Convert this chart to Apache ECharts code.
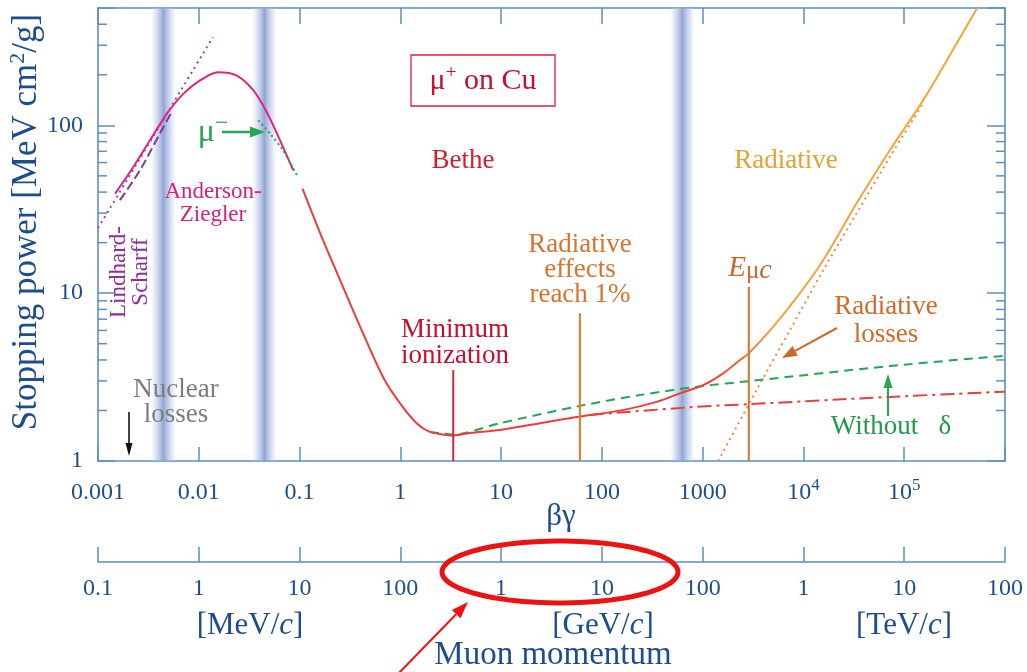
<!DOCTYPE html>
<html>
<head>
<meta charset="utf-8">
<title>Stopping power for muons in copper</title>
<script src="https://cdn.jsdelivr.net/npm/echarts@6.0.0/dist/echarts.min.js"></script>
<style>
  html, body { margin: 0; padding: 0; background: #fff; }
  #chart { width: 1027px; height: 672px; }
</style>
</head>
<body>
<div id="chart"></div>
<script>
// values: [beta*gamma, stopping power MeV cm2/g]
var betheTotal = [
  [0.107, 42.0], [0.171, 20.7], [0.27, 10.9], [0.426, 5.78], [0.671, 3.18], [0.99, 2.21],
  [1.45, 1.68], [1.97, 1.49], [2.88, 1.43], [3.35, 1.42], [4.9, 1.47], [9.7, 1.53],
  [24.3, 1.68], [60.5, 1.84], [161, 2.01], [349, 2.25], [594, 2.53], [1010, 2.83],
  [1600, 3.33], [2340, 3.99], [2870, 4.38], [5000, 6.3], [9200, 9.96], [15700, 15.7],
  [33600, 34.2], [72000, 71], [154000, 141], [330000, 306], [530000, 500]
];
var andersonZiegler = [
  [0.00148, 39.2], [0.00224, 56.5], [0.00328, 81.4], [0.00481, 117], [0.00702, 154],
  [0.0103, 185], [0.0155, 207], [0.0238, 198], [0.0347, 162], [0.0472, 120],
  [0.064, 81.4], [0.0866, 54]
];
var lindhardDashed = [[0.00165, 35.8], [0.00261, 54], [0.00412, 89.6], [0.00542, 121]];
var lindhardDotted = [[0.001, 24.4], [0.0138, 335]];
var muMinus = [[0.0389, 107], [0.0508, 89.6], [0.0684, 71], [0.0942, 50.4]];
var withoutDelta = [
  [1.97, 1.49], [3.33, 1.44], [9.7, 1.68], [60.5, 2.13], [238, 2.47], [1005, 2.8],
  [2870, 2.99], [72000, 3.68], [1000000, 4.24]
];
var betheOnly = [[76, 1.88], [746, 2.09], [2870, 2.18], [72000, 2.41], [1000000, 2.59]];
var radiativeLosses = [
  [1426, 1.0], [3430, 2.65], [7330, 6.02], [15700, 13.7], [33600, 29.8], [72000, 64.8], [154000, 135]
];
var minIonization = [[3.35, 1], [3.35, 3.48]];
var radOnePercent = [[60.5, 1], [60.5, 7.6]];
var muonCritical = [[2870, 1], [2870, 10.9]];
// shaded boundaries between the regions (beta*gamma from / to)
var bands = [[0.00335, 0.00596], [0.0337, 0.0597], [473, 837]];

var bgTickLabels = ['0.001', '0.01', '0.1', '1', '10', '100', '1000', '10{sup|4}', '10{sup|5}', ''];
var momTickLabels = ['0.1', '1', '10', '100', '1', '10', '100', '1', '10', '100'];
var yTickLabels = ['1', '10', '100'];
var yMinorTicks = [2, 3, 4, 5, 6, 7, 8, 9, 20, 30, 40, 50, 60, 70, 80, 90, 200, 300, 400];

var FONT = '"Liberation Serif", "DejaVu Serif", serif';
var axisColor = '#5d8dc4';
var navy = '#1d4d8e';
var red = '#ee3b3b';
var orange = '#f4a53a';
var green = '#27a552';

function expOf(v) {
  var e = Math.log(v) / Math.LN10;
  var r = Math.round(e);
  return Math.abs(e - r) < 0.01 ? r : null;
}

function arrow(x1, y1, x2, y2, color, w, hl, hw) {
  var a = Math.atan2(y2 - y1, x2 - x1);
  var bx = x2 - hl * Math.cos(a), by = y2 - hl * Math.sin(a);
  var px = -Math.sin(a) * hw / 2, py = Math.cos(a) * hw / 2;
  return [
    { type: 'line', z: 50, shape: { x1: x1, y1: y1, x2: bx, y2: by }, style: { stroke: color, lineWidth: w } },
    { type: 'polygon', z: 50, shape: { points: [[x2, y2], [bx + px, by + py], [bx - px, by - py]] }, style: { fill: color } }
  ];
}

function text(str, x, y, size, color, extra) {
  var el = {
    type: 'text', x: x, y: y, z: 50,
    style: {
      text: str, font: size + 'px ' + FONT, fill: color,
      align: 'center', verticalAlign: 'middle', lineHeight: size * 0.92
    }
  };
  if (extra) {
    for (var k in extra) {
      if (k === 'style') { for (var s in extra.style) el.style[s] = extra.style[s]; }
      else el[k] = extra[k];
    }
  }
  return el;
}

function ellipsePoints(cx, cy, rx, ry) {
  var pts = [];
  for (var i = 0; i < 90; i++) {
    var t = i / 90 * Math.PI * 2;
    pts.push([cx + rx * Math.cos(t), cy + ry * Math.sin(t)]);
  }
  return pts;
}

var chart = echarts.init(document.getElementById('chart'));

function lineSeries(data, color, width, type, z) {
  return {
    type: 'line', data: data, showSymbol: false, symbol: 'none', smooth: 0.3,
    lineStyle: { color: color, width: width, type: type || 'solid' },
    z: z || 5, silent: true
  };
}

var italicC = { i: { fontStyle: 'italic', fontSize: 31, fontFamily: FONT, fill: navy } };

var graphics = [
  // y axis title
  text('Stopping power [MeV cm{sup|2}/g]', 27, 222, 35, navy, {
    rotation: Math.PI / 2,
    style: { rich: { sup: { fontSize: 22, fontFamily: FONT, fill: navy, padding: [0, 0, 17, 0] } } }
  }),
  text('βγ', 561, 517, 31, navy),
  text('[MeV/{i|c}]', 250, 626, 31, navy, { style: { rich: italicC } }),
  text('[GeV/{i|c}]', 603, 626, 31, navy, { style: { rich: italicC } }),
  text('[TeV/{i|c}]', 904, 626, 31, navy, { style: { rich: italicC } }),
  text('Muon momentum', 553, 655, 33, navy),
  // box label
  { type: 'rect', z: 50, shape: { x: 411, y: 55, width: 144, height: 51 }, style: { fill: 'none', stroke: '#d2233b', lineWidth: 1.3 } },
  text('{a|μ}{s|+}{a| on Cu}', 483, 81, 30, '#c8102e', {
    style: { rich: { a: { fontSize: 30, fontFamily: FONT, fill: '#c8102e' }, s: { fontSize: 19, fontFamily: FONT, fill: '#c8102e', padding: [0, 0, 16, 0] } } }
  }),
  text('Bethe', 463, 161, 27, '#d0202e'),
  text('Radiative', 786, 161, 27, '#e8a032'),
  text('Anderson-\nZiegler', 213, 203, 23, '#d81f7c', { style: { lineHeight: 23 } }),
  text('Lindhard-\nScharff', 130, 272, 23, '#8a2f9c', { rotation: Math.PI / 2, style: { lineHeight: 22 } }),
  text('{m|μ}{s|−}', 213, 133, 30, green, {
    style: { rich: { m: { fontSize: 32, fontFamily: FONT, fill: green }, s: { fontSize: 24, fontFamily: FONT, fill: green, padding: [0, 0, 18, 0] } } }
  }),
  text('Nuclear\nlosses', 176, 402, 27, '#7d7d7d', { style: { lineHeight: 25 } }),
  text('Minimum\nionization', 455, 343, 27, '#c8102e', { style: { lineHeight: 26 } }),
  text('Radiative\neffects\nreach 1%', 580, 270, 27, '#d9722e', { style: { lineHeight: 25 } }),
  text('{e|E}{m|μ}{c|c}', 750, 268, 28, '#c9682a', {
    style: { rich: {
      e: { fontSize: 29, fontStyle: 'italic', fontFamily: FONT, fill: '#c9682a' },
      m: { fontSize: 25, fontFamily: FONT, fill: '#c9682a', padding: [6, 0, 0, 0] },
      c: { fontSize: 28, fontStyle: 'italic', fontFamily: FONT, fill: '#c9682a', padding: [6, 0, 0, 0] }
    } }
  }),
  text('Radiative\nlosses', 886, 321, 27, '#d06a28', { style: { lineHeight: 28 } }),
  text('Without   δ', 891, 427, 27, '#1f9a4a'),
  // red annotation ellipse
  { type: 'polygon', z: 60, shape: { points: ellipsePoints(560, 572, 118, 31) }, style: { fill: 'none', stroke: '#ee1111', lineWidth: 5 } }
];
graphics = graphics
  .concat(arrow(222, 132, 265, 132, green, 2.5, 15, 11))
  .concat(arrow(129, 412, 129, 456, '#111', 1.6, 13, 7))
  .concat(arrow(837, 328, 782, 358, '#c96a2a', 2, 15, 11))
  .concat(arrow(888, 416, 888, 374, green, 2, 14, 9))
  .concat(arrow(396, 676, 468, 602, '#ee1111', 2, 17, 12));

var option = {
  animation: false,
  backgroundColor: '#fff',
  grid: { left: 98, right: 22, top: 8, bottom: 211, containLabel: false, outerBoundsMode: 'none' },
  xAxis: [
    {
      type: 'log', min: 0.001, max: 1000000, position: 'bottom',
      axisLine: { lineStyle: { color: axisColor, width: 1.6 } },
      axisTick: { inside: true, length: 14, lineStyle: { color: axisColor, width: 1.5 } },
      splitLine: { show: false },
      axisLabel: {
        margin: 17, fontSize: 24, lineHeight: 30, fontFamily: FONT, color: navy,
        formatter: function (v) { var e = expOf(v); return e === null ? '' : (bgTickLabels[e + 3] || ''); },
        rich: { sup: { fontSize: 17, fontFamily: FONT, color: navy, padding: [0, 0, 14, 0] } }
      }
    },
    {
      type: 'log', min: 0.1, max: 100000000, position: 'bottom', offset: 101,
      axisLine: { lineStyle: { color: axisColor, width: 1.6 } },
      axisTick: { inside: true, length: 15, lineStyle: { color: axisColor, width: 1.5 } },
      splitLine: { show: false },
      axisLabel: {
        margin: 15, fontSize: 24, fontFamily: FONT, color: navy,
        formatter: function (v) { var e = expOf(v); return e === null ? '' : (momTickLabels[e + 1] || ''); }
      }
    },
    {
      type: 'log', min: 0.001, max: 1000000, position: 'top',
      axisLine: { lineStyle: { color: axisColor, width: 1.6 } },
      axisTick: { inside: true, length: 16, lineStyle: { color: axisColor, width: 1.5 } },
      splitLine: { show: false },
      axisLabel: { show: false }
    }
  ],
  yAxis: [
    {
      type: 'log', min: 1, max: 500, position: 'left',
      axisLine: { lineStyle: { color: axisColor, width: 1.6 } },
      axisTick: { inside: true, length: 17, lineStyle: { color: axisColor, width: 1.5 } },
      splitLine: { show: false },
      axisLabel: {
        margin: 15, fontSize: 24, fontFamily: FONT, color: navy,
        formatter: function (v) { var e = expOf(v); return e === null ? '' : (yTickLabels[e] || ''); }
      }
    },
    {
      type: 'log', min: 1, max: 500, position: 'right',
      axisLine: { lineStyle: { color: axisColor, width: 1.6 } },
      axisTick: { inside: true, length: 18, lineStyle: { color: axisColor, width: 1.5 } },
      splitLine: { show: false },
      axisLabel: { show: false }
    }
  ],
  series: [
    {
      type: 'custom', z: 1, silent: true,
      encode: { x: [0, 1] },
      data: bands,
      renderItem: function (params, api) {
        var cs = params.coordSys;
        var x1 = api.coord([api.value(0), 1])[0];
        var x2 = api.coord([api.value(1), 1])[0];
        return {
          type: 'rect',
          shape: { x: x1, y: cs.y, width: x2 - x1, height: cs.height },
          style: {
            fill: new echarts.graphic.LinearGradient(0, 0, 1, 0, [
              { offset: 0, color: 'rgba(200,212,238,0)' },
              { offset: 0.2, color: 'rgba(182,197,231,0.5)' },
              { offset: 0.5, color: 'rgba(140,160,209,0.95)' },
              { offset: 0.8, color: 'rgba(182,197,231,0.5)' },
              { offset: 1, color: 'rgba(200,212,238,0)' }
            ])
          }
        };
      }
    },
    {
      type: 'custom', z: 2, silent: true,
      data: yMinorTicks.map(function (v) { return [1, v]; }),
      renderItem: function (params, api) {
        var cs = params.coordSys;
        var y = api.coord([1, api.value(1)])[1];
        var st = { stroke: axisColor, lineWidth: 1.5 };
        return {
          type: 'group',
          children: [
            { type: 'line', shape: { x1: cs.x, y1: y, x2: cs.x + 9, y2: y }, style: st },
            { type: 'line', shape: { x1: cs.x + cs.width - 9, y1: y, x2: cs.x + cs.width, y2: y }, style: st }
          ]
        };
      }
    },
    lineSeries(lindhardDotted, '#9045b0', 2, [2, 4], 4),
    lineSeries(lindhardDashed, '#7a3aa0', 2, [9, 4], 4),
    lineSeries(andersonZiegler, '#dd2680', 2, 'solid', 5),
    lineSeries(muMinus, green, 2, [2, 3], 6),
    lineSeries(withoutDelta, green, 2, [9, 6], 5),
    lineSeries(betheOnly, red, 2, [14, 5, 3, 5], 5),
    lineSeries(radiativeLosses, '#f08a3a', 2, [2, 4], 5),
    (function () {
      var s = lineSeries(betheTotal, red, 2, 'solid', 6);
      s.lineStyle.color = new echarts.graphic.LinearGradient(0, 0, 1, 0, [
        { offset: 0, color: red }, { offset: 0.6, color: red },
        { offset: 0.7, color: orange }, { offset: 1, color: orange }
      ]);
      return s;
    })(),
    lineSeries(minIonization, '#d2233b', 2, 'solid', 7),
    lineSeries(radOnePercent, '#e07a2a', 2, 'solid', 7),
    lineSeries(muonCritical, '#d8702c', 2, 'solid', 7)
  ],
  graphic: graphics
};
chart.setOption(option);
</script>
</body>
</html>
